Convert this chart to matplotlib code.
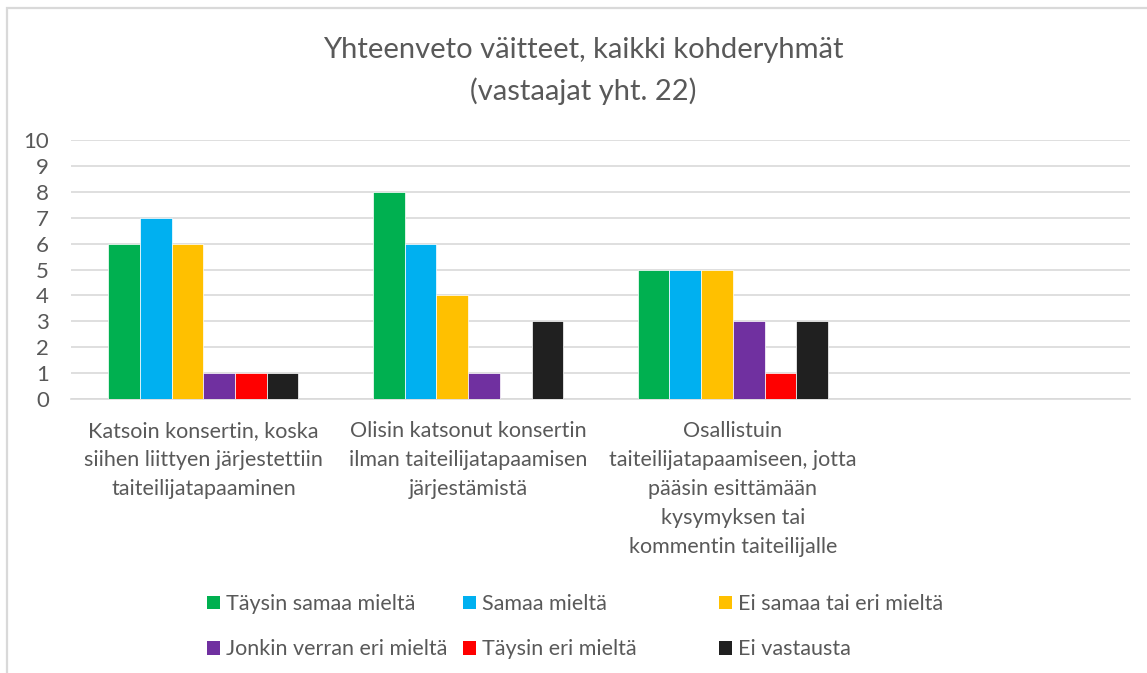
import matplotlib
matplotlib.use("Agg")
import matplotlib.pyplot as plt
import numpy as np
from matplotlib.patches import Rectangle, Patch

# ---------------------------- data ----------------------------
categories = [
    "Katsoin konsertin, koska\nsiihen liittyen järjestettiin\ntaiteilijatapaaminen",
    "Olisin katsonut konsertin\nilman taiteilijatapaamisen\njärjestämistä",
    "Osallistuin\ntaiteilijatapaamiseen, jotta\npääsin esittämään\nkysymyksen tai\nkommentin taiteilijalle",
    "",
]
series_names = [
    "Täysin samaa mieltä",
    "Samaa mieltä",
    "Ei samaa tai eri mieltä",
    "Jonkin verran eri mieltä",
    "Täysin eri mieltä",
    "Ei vastausta",
]
taysin_samaa = [6, 8, 5]
samaa = [7, 6, 5]
ei_samaa_eri = [6, 4, 5]
jonkin_verran = [1, 1, 3]
taysin_eri = [1, 0, 1]
ei_vastausta = [1, 3, 3]
series_values = [taysin_samaa, samaa, ei_samaa_eri, jonkin_verran, taysin_eri, ei_vastausta]
colors = ["#00B050", "#00B0F0", "#FFC000", "#7030A0", "#FF0000", "#202020"]

title = "Yhteenveto väitteet, kaikki kohderyhmät\n(vastaajat yht. 22)"
yticks = list(range(0, 11))

# ---------------------------- plot ----------------------------
plt.rcParams['font.family'] = ['Lato', 'DejaVu Sans']
txt = "#595959"
grid = "#D9D9D9"
fs = 15.5

fig = plt.figure(figsize=(11.47, 6.73), dpi=100)
ax = fig.add_axes([71 / 1147, 1 - 399 / 673, 1059 / 1147, 259 / 673])

# chart frame (top / left edges visible)
fig.patches.append(Rectangle((6.5 / 1147, -0.05), 1.2, 1 - 8.5 / 673 + 0.05,
                             transform=fig.transFigure, fill=False,
                             edgecolor=grid, linewidth=1.6))

w = 0.1197
x = np.arange(len(taysin_samaa))
n = len(series_values)
for i, (vals, col, name) in enumerate(zip(series_values, colors, series_names)):
    ax.bar(x + (i - (n - 1) / 2) * w, vals, width=w, color=col,
           edgecolor="white", linewidth=0.5, label=name, zorder=3)

ax.set_xlim(-0.5, 3.5)
ax.set_ylim(0, 10)
ax.set_yticks(yticks)
ax.set_xticks(range(len(categories)))
ax.set_xticklabels(categories, fontsize=fs, color=txt, linespacing=1.56, va="top")
ax.tick_params(axis="y", length=0, pad=16, labelsize=16, labelcolor=txt)
ax.tick_params(axis="x", length=0, pad=16)
ax.yaxis.grid(True, color=grid, linewidth=1.2, zorder=0)
ax.set_axisbelow(True)
for s in ["top", "right", "left"]:
    ax.spines[s].set_visible(False)
ax.spines["bottom"].set_color(grid)
ax.spines["bottom"].set_linewidth(1.2)

fig.text(583 / 1147, 1 - 71 / 673, title, ha="center", va="center",
         fontsize=21, color=txt, linespacing=1.6)

# legend: three columns of equal width
col_x = [207, 463, 719]
for c in range(3):
    handles = [Patch(facecolor=colors[c]), Patch(facecolor=colors[c + 3])]
    labels = [series_names[c], series_names[c + 3]]
    fig.legend(handles, labels, loc="upper left",
               bbox_to_anchor=(col_x[c] / 1147, 1 - 594 / 673),
               frameon=False, fontsize=fs, labelcolor=txt,
               handlelength=0.6, handleheight=0.6, handletextpad=0.3,
               labelspacing=1.18, borderpad=0, borderaxespad=0)

fig.savefig("out.png", dpi=100)
